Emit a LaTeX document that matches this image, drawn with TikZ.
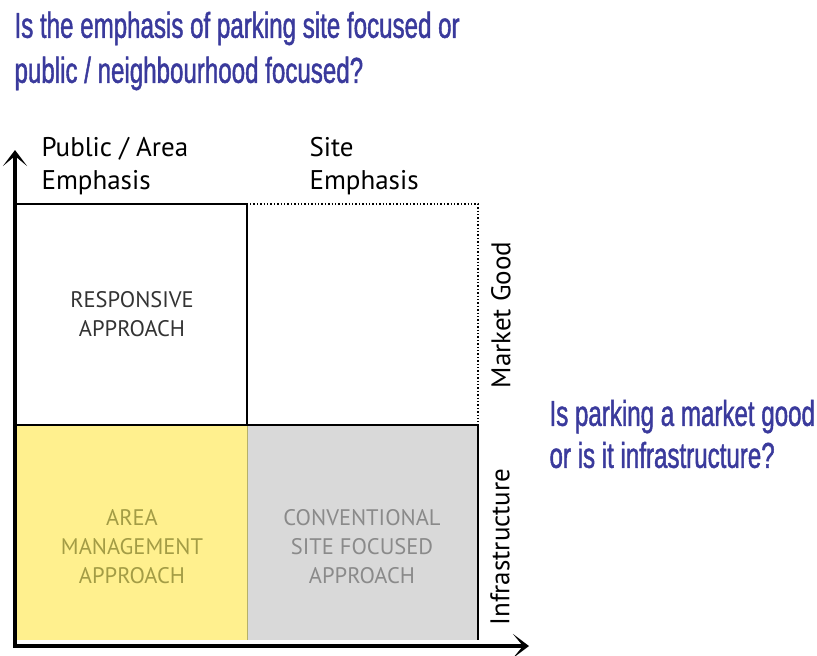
\documentclass[tikz,border=0pt]{standalone}
\usepackage{fontspec}
\setmainfont{PT Sans}
\newfontfamily\askfont[FakeStretch=0.67, FakeBold=1.2]{Liberation Sans}
\usetikzlibrary{arrows.meta, positioning, calc}
\definecolor{askBlue}{HTML}{3A3A9C}
\definecolor{areaYellow}{HTML}{FFF08E}
\definecolor{areaOlive}{HTML}{A39C45}
\definecolor{siteGrey}{HTML}{D9D9D9}
\definecolor{labelGrey}{HTML}{8A8A8A}

\begin{document}
\begin{tikzpicture}[x=1pt, y=-1pt,
   ask/.style={anchor=west, align=left, text=askBlue, font=\askfont\fontsize{36}{45}\selectfont},
   head/.style={anchor=west, align=left, font=\fontsize{27}{33}\selectfont},
   quad/.style={align=center, font=\fontsize{22.5}{29}\selectfont},
   axis/.style={line width=4pt, -{Stealth[length=16pt, width=24pt, inset=10pt]}},
   side/.style={rotate=90, font=\fontsize{27}{30}\selectfont}]
\useasboundingbox (0,0) rectangle (817,656);

% quadrant fills
\fill[areaYellow] (17,425) rectangle (247,640);
\fill[siteGrey] (247,425) rectangle (478,640);
\draw[areaOlive!80, line width=1pt] (247,425) -- (247,640);

% quadrant lines
\draw[line width=1.2pt] (15,204) -- (247,204) -- (247,425);
\draw[line width=1.2pt] (15,425) -- (478,425) -- (478,640);
\draw[line width=1.4pt, dotted] (250,204) -- (478,204) -- (478,422);

% axes
\coordinate (o) at (15,646);
\coordinate (ytip) at (15,150);
\coordinate (xtip) at (529,646);
\draw[axis] (o) -- (ytip);
\draw[axis] ($(o)+(-2,0)$) -- (xtip);

% column headings
\node[head] (pub) at (38,166) {Public / Area\\Emphasis};
\node[head] (site) at (306,166) {Site\\Emphasis};

% quadrant labels
\node[quad, text=black!80] (resp) at (132,314) {RESPONSIVE\\APPROACH};
\node[quad, text=areaOlive] (area) at (132,547) {AREA\\MANAGEMENT\\APPROACH};
\node[quad, text=labelGrey] (conv) at (362,547) {CONVENTIONAL\\SITE FOCUSED\\APPROACH};

% side labels
\node[side] (mkt) at (501,315) {Market Good};
\node[side] (infra) at (500,547) {Infrastructure};

% questions
\node[ask] (q1) at (11,51) {Is the emphasis of parking site focused or\\public / neighbourhood focused?};
\node[ask, font=\askfont\fontsize{36}{42}\selectfont] (q2) at (546,434) {Is parking a market good\\or is it infrastructure?};
\end{tikzpicture}
\end{document}
